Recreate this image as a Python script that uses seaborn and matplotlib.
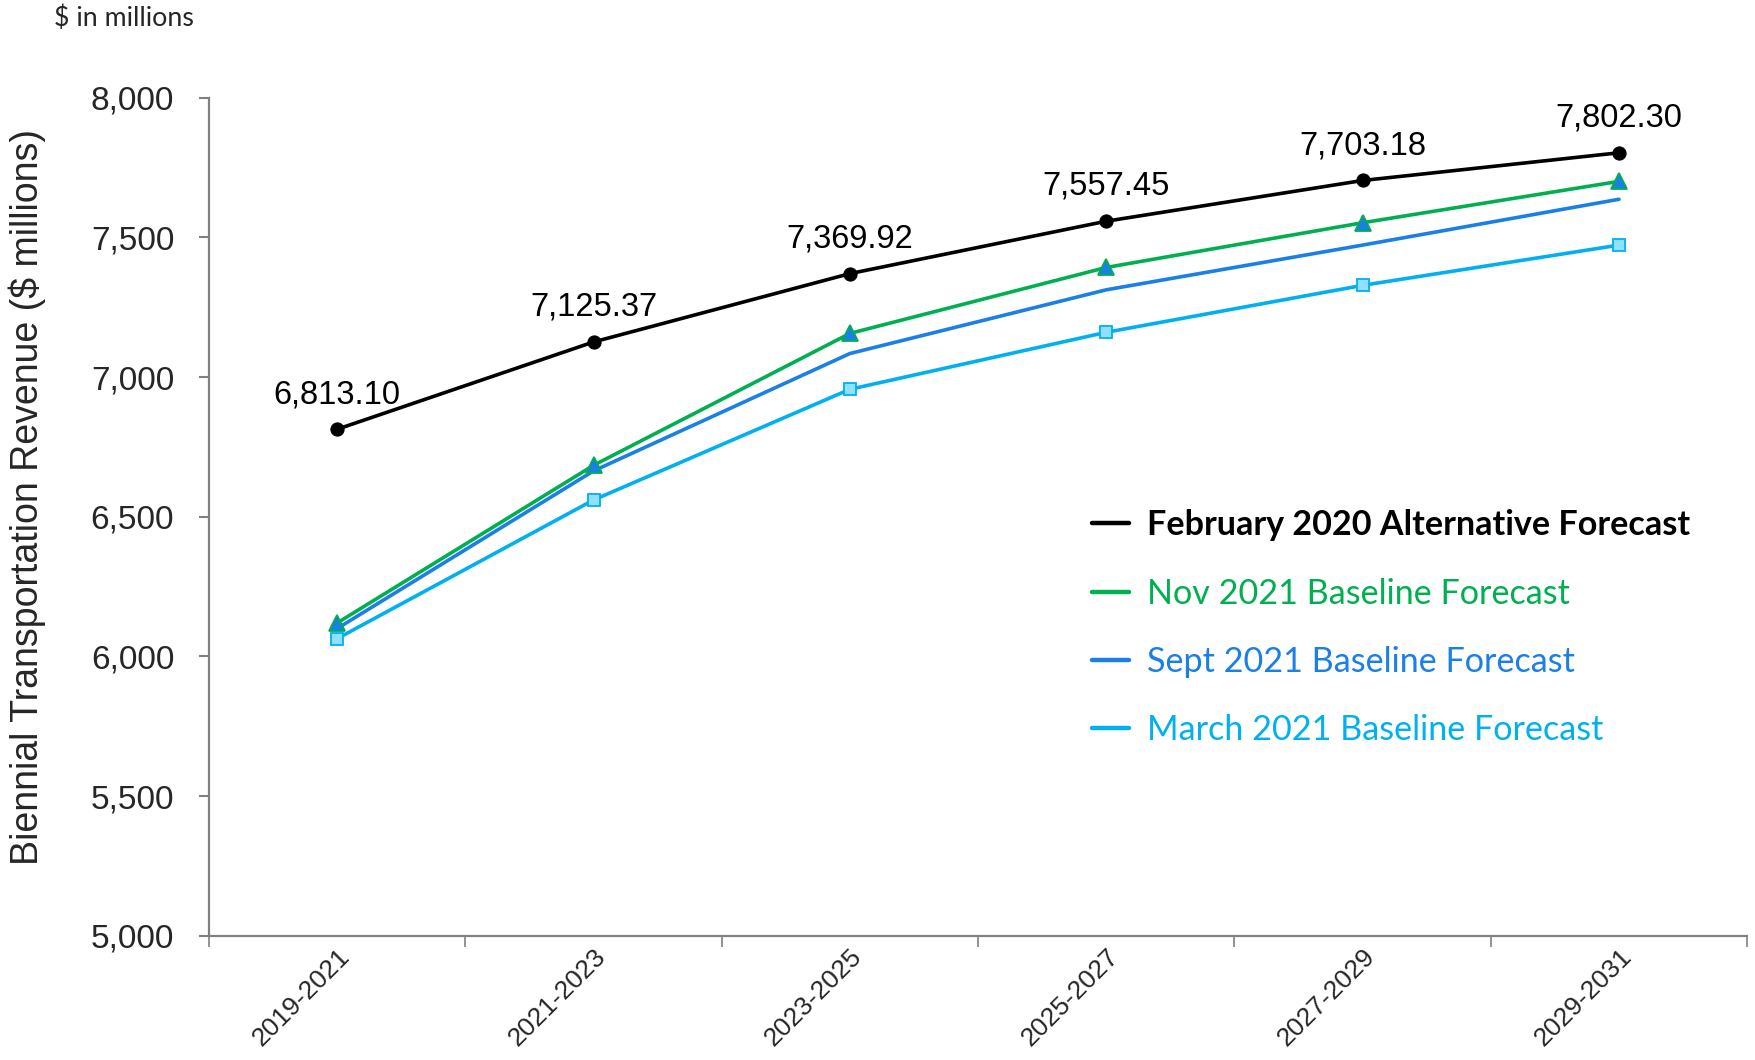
import numpy as np
import pandas as pd
import matplotlib
matplotlib.use("Agg")
import matplotlib.pyplot as plt
import seaborn as sns
from matplotlib.lines import Line2D

categories = ["2019-2021", "2021-2023", "2023-2025", "2025-2027", "2027-2029", "2029-2031"]
feb2020_alt = [6813.10, 7125.37, 7369.92, 7557.45, 7703.18, 7802.30]
nov2021_base = [6120, 6684, 7156, 7392, 7552, 7700]
sept2021_base = [6100, 6664, 7084, 7312, 7472, 7636]
mar2021_base = [6064, 6560, 6956, 7160, 7328, 7472]
series_names = ["February 2020 Alternative Forecast", "Nov 2021 Baseline Forecast",
                "Sept 2021 Baseline Forecast", "March 2021 Baseline Forecast"]
yticks = [5000, 5500, 6000, 6500, 7000, 7500, 8000]

sns.set_theme(style="white")
plt.rcParams["font.family"] = ["Liberation Sans", "DejaVu Sans"]

fig = plt.figure(figsize=(17.56, 10.6), dpi=100)
ax = fig.add_axes([0.119, 0.117, 0.876, 0.791])

xpos = np.arange(len(categories))
c_black = "#000000"
c_green = "#00b050"
c_blue = "#1a7fe6"
c_cyan = "#00b0f0"

df = pd.DataFrame({"x": xpos, "feb": feb2020_alt, "nov": nov2021_base,
                   "sep": sept2021_base, "mar": mar2021_base})

sns.lineplot(data=df, x="x", y="mar", ax=ax, color=c_cyan, lw=2.6, marker="s",
             markersize=9, markerfacecolor="#8fe1ff", markeredgecolor=c_cyan,
             markeredgewidth=1.3, label=series_names[3], zorder=3)
sns.lineplot(data=df, x="x", y="sep", ax=ax, color=c_blue, lw=2.6,
             label=series_names[2], zorder=4)
sns.lineplot(data=df, x="x", y="nov", ax=ax, color=c_green, lw=2.6, marker="^",
             markersize=11, markerfacecolor=c_blue, markeredgecolor=c_green,
             markeredgewidth=1.3, label=series_names[1], zorder=5)
sns.lineplot(data=df, x="x", y="feb", ax=ax, color=c_black, lw=2.6, marker="o",
             markersize=9.5, markerfacecolor=c_black, markeredgecolor=c_black,
             label=series_names[0], zorder=6)

for x, v in zip(xpos, feb2020_alt):
    ax.annotate(f"{v:,.2f}", (x, v), xytext=(0, 25), textcoords="offset points",
                ha="center", va="center", fontsize=23.5, color="black")

ax.set_xlim(-0.5, 5.5)
ax.set_ylim(5000, 8000)
ax.set_yticks(yticks)
ax.set_yticklabels([f"{t:,}" for t in yticks], fontsize=24)
ax.set_xticks(np.arange(-0.5, 6.0, 1.0))
ax.set_xticklabels([""] * 7)
ax.set_xticks(xpos, minor=True)
ax.set_xticklabels(categories, minor=True, rotation=45, ha="right", va="top",
                   rotation_mode="anchor", fontsize=19)
ax.tick_params(axis="x", which="major", direction="out", length=8, width=1.2,
               color="#808080", bottom=True)
ax.tick_params(axis="x", which="minor", length=0, pad=6, bottom=True)
ax.tick_params(axis="y", which="major", direction="out", length=7, width=1.5,
               color="#808080", left=True, pad=18)

for side in ["top", "right"]:
    ax.spines[side].set_visible(False)
for side in ["left", "bottom"]:
    ax.spines[side].set_color("#808080")
    ax.spines[side].set_linewidth(1.6)

ax.set_xlabel("")
ax.set_ylabel("Biennial Transportation Revenue ($ millions)", fontsize=27)
ax.yaxis.set_label_coords(-0.106, 0.5235)

handles, labels = ax.get_legend_handles_labels()
order = [3, 2, 1, 0]
handles = [handles[i] for i in order]
labels = [labels[i] for i in order]
handles = [Line2D([0], [0], color=h.get_color(), lw=3.2) for h in handles]
leg = ax.legend(handles, labels, loc="upper left", bbox_to_anchor=(0.622, 0.5195),
                bbox_transform=fig.transFigure, frameon=False, borderpad=0,
                borderaxespad=0, handlelength=1.08, handletextpad=0.53,
                labelspacing=1.06, prop={"family": ["Lato", "DejaVu Sans"], "size": 24.6})
label_colors = [c_black, c_green, c_blue, c_cyan]
for t, c in zip(leg.get_texts(), label_colors):
    t.set_color(c)
leg.get_texts()[0].set_fontweight("bold")

fig.text(0.031, 0.983, "$ in millions", fontsize=19.3, color="#262626",
         family=["Lato", "DejaVu Sans"], ha="left", va="center")

fig.savefig("out.png", dpi=100)
